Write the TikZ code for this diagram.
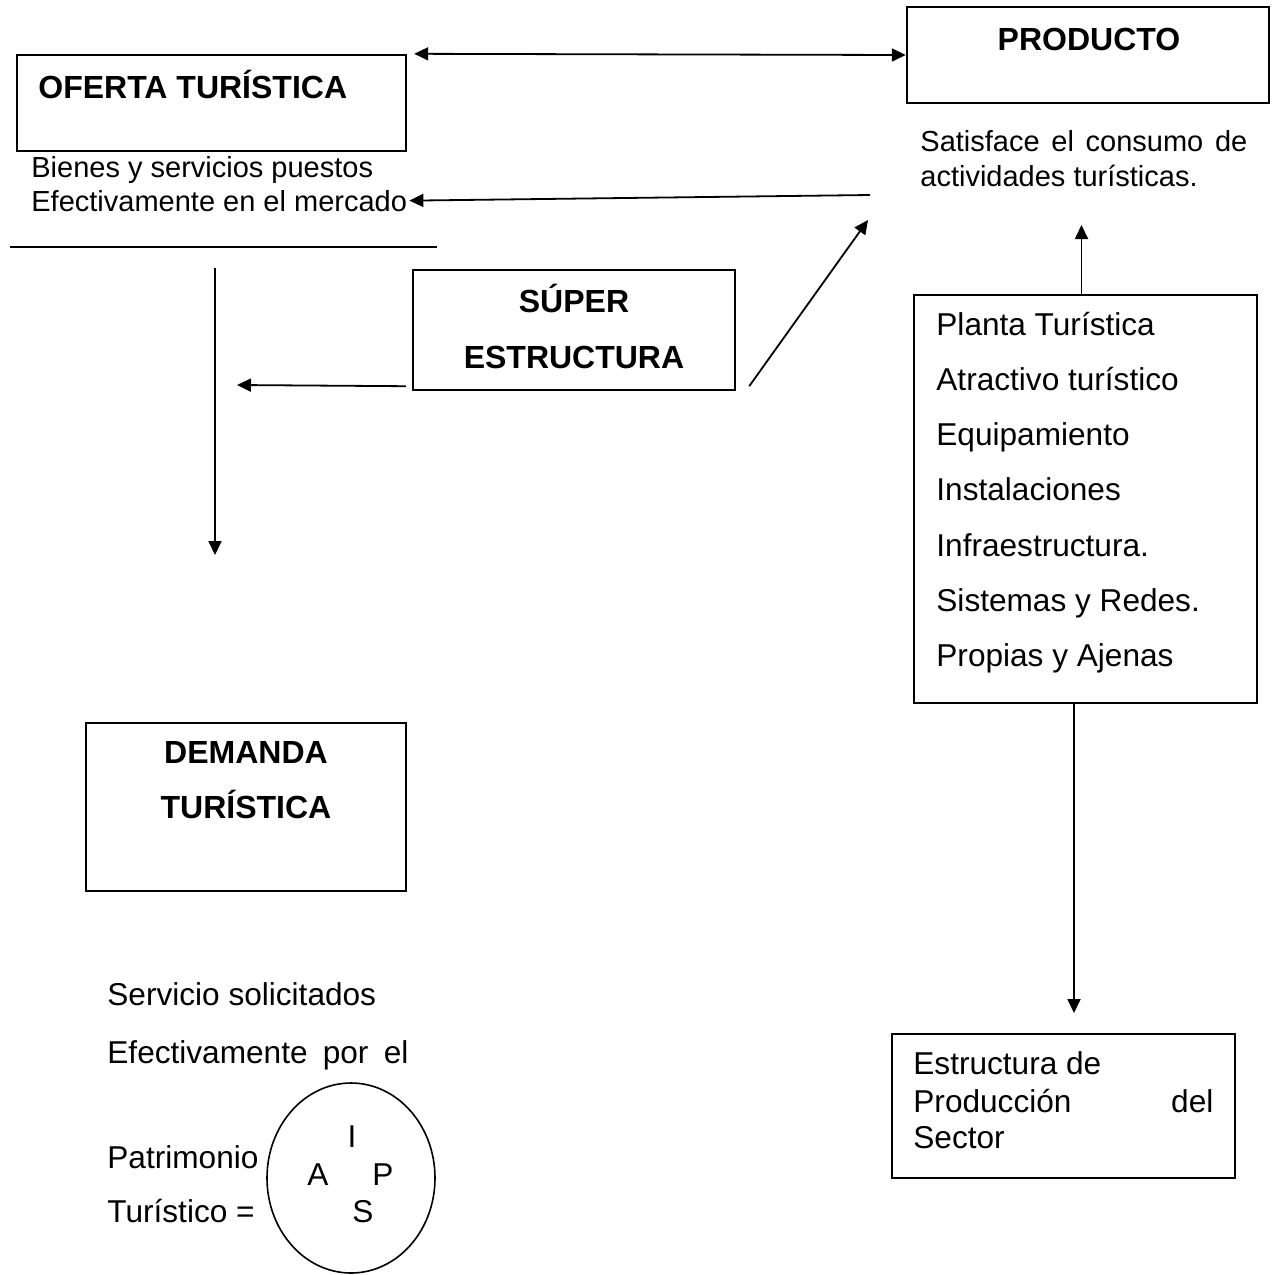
\documentclass[tikz,border=0pt]{standalone}
\usepackage{fontspec}
\setmainfont{Liberation Sans}
\usetikzlibrary{arrows.meta, shapes.geometric}

\tikzset{
  caja/.style={draw, line width=1.2pt, inner sep=0pt},
  flecha/.style={line width=0.9pt, -{Triangle[length=7pt, width=6.5pt]}},
  doble/.style={line width=0.9pt, {Triangle[length=7pt, width=6.5pt]}-{Triangle[length=7pt, width=6.5pt]}},
  titulo/.style={font=\fontsize{16}{19}\selectfont\bfseries, inner sep=0pt, anchor=base},
  texto/.style={font=\fontsize{15.8}{19}\selectfont, inner sep=0pt, anchor=base west},
  letra/.style={font=\fontsize{15.8}{19}\selectfont, inner sep=0pt, anchor=base},
  nota/.style={font=\fontsize{14.5}{17}\selectfont, inner sep=0pt, anchor=base west},
}

\begin{document}
\begin{tikzpicture}[x=0.5pt, y=-0.5pt]
    \useasboundingbox (0,0) rectangle (1271,1275);

    % cajas
    \node[caja, minimum width=194.5pt, minimum height=48pt] (oferta) at (211.5,103) {};
    \node[caja, minimum width=181pt, minimum height=48pt] (producto) at (1088,55) {};
    \node[caja, minimum width=161pt, minimum height=60pt] (super) at (574,330) {};
    \node[caja, minimum width=171.5pt, minimum height=204pt] (planta) at (1085.5,499) {};
    \node[caja, minimum width=160pt, minimum height=84pt] (demanda) at (246,807) {};
    \node[caja, minimum width=171.5pt, minimum height=72pt] (estructura) at (1063.5,1106) {};
    \node[draw, ellipse, line width=0.8pt, minimum width=84pt, minimum height=95pt] (patrimonio) at (351,1178) {};

    % titulos
    \node[titulo, anchor=base west] (t-oferta) at (38,98) {OFERTA TURÍSTICA};
    \node[titulo] (t-producto) at (1089,50) {PRODUCTO};
    \node[titulo] (t-super1) at (574,312) {SÚPER};
    \node[titulo] (t-super2) at (574,368) {ESTRUCTURA};
    \node[titulo] (t-demanda1) at (246,763) {DEMANDA};
    \node[titulo] (t-demanda2) at (246,818) {TURÍSTICA};

    % textos
    \node[nota] (bienes) at (31,177) {Bienes y servicios puestos};
    \node[nota] (mercado) at (31,211) {Efectivamente en el mercado};
    \node[nota] (satis1) at (920,151) {\makebox[163.5pt][s]{Satisface el consumo de}};
    \node[nota] (satis2) at (920,186) {actividades turísticas.};
    \foreach \t [count=\i] in {Planta Turística, Atractivo turístico, Equipamiento,
        Instalaciones, Infraestructura., Sistemas y Redes., Propias y Ajenas} {
            \node[texto] (item\i) at (936, 279.7 + 55.3*\i) {\t};
        }
    \node[texto] (estr1) at (913,1074) {Estructura de};
    \node[texto] (estr2) at (913,1112) {\makebox[150pt][s]{Producción del}};
    \node[texto] (estr3) at (913,1148) {Sector};
    \node[texto] (serv1) at (107,1005) {Servicio solicitados};
    \node[texto] (serv2) at (107,1063) {\makebox[150.5pt][s]{Efectivamente por el}};
    \node[texto] (patr1) at (107,1168) {Patrimonio};
    \node[texto] (patr2) at (107,1222) {Turístico =};
    \node[letra] (l-i) at (352,1147) {I};
    \node[letra] (l-a) at (318,1185) {A};
    \node[letra] (l-p) at (383,1185) {P};
    \node[letra] (l-s) at (363,1222) {S};

    % flechas
    \coordinate (c-satis) at (870,195);
    \coordinate (c-izq) at (237,385);
    \coordinate (c-diag) at (868,220);
    \coordinate (c-vsup) at (215,268);
    \coordinate (c-vinf) at (215,555);
    \coordinate (c-prod) at (1081.5,225);
    \coordinate (c-estr) at (1074,1013);
    \draw[doble] ([xshift=3.5pt]oferta.north east) -- (producto.west);
    \draw[flecha] (c-satis) -- ([xshift=1pt]mercado.east);
    \draw[line width=0.9pt] (10,247) -- (437,247);
    \draw[flecha] ([shift={(-6,-5)}]super.south west) -- (c-izq);
    \draw[flecha] ([shift={(13,-5)}]super.south east) -- (c-diag);
    \draw[flecha] (c-vsup) -- (c-vinf);
    \draw[flecha] ([xshift=-2pt]planta.north) -- (c-prod);
    \draw[flecha] ([xshift=-5.75pt]planta.south) -- (c-estr);
\end{tikzpicture}
\end{document}
